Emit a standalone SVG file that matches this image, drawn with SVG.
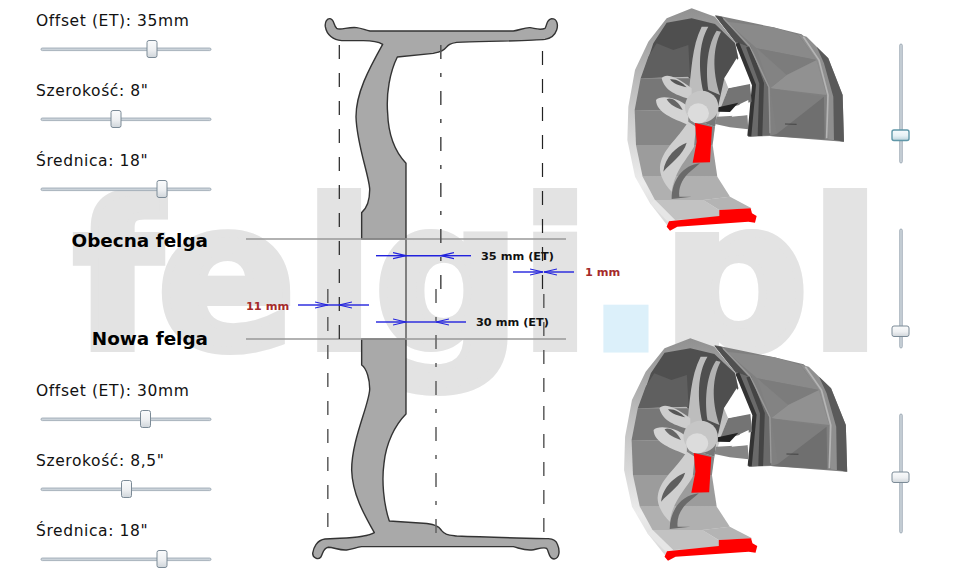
<svg xmlns="http://www.w3.org/2000/svg" xmlns:xlink="http://www.w3.org/1999/xlink" width="965" height="581" viewBox="0 0 965 581">
<style>
.wm{font:bold 205px "DejaVu Sans",sans-serif;fill:#e3e3e3;stroke:#e3e3e3;stroke-width:8}
.lab{font:15.5px "DejaVu Sans",sans-serif;fill:#111;letter-spacing:.6px}
.big{font:bold 18.4px "DejaVu Sans",sans-serif;fill:#000;text-anchor:end}
.et{font:bold 11.3px "DejaVu Sans",sans-serif;fill:#111}
.mm{font:bold 11.3px "DejaVu Sans",sans-serif;fill:#a52a2a}
.trk{fill:#cbd3da;stroke:#98a5b0;stroke-width:.8}
.th{fill:url(#th);stroke:#7b8a96;stroke-width:1}
.tha{fill:url(#tha);stroke:#5f97a8;stroke-width:1.4}
.rim{fill:#a9a9a9;stroke:#333;stroke-width:4.2;stroke-linejoin:round}
.guide{stroke:#999;stroke-width:1.6}
.d1{stroke:#222;stroke-width:1.2;fill:none;stroke-dasharray:14 14}
.d2{stroke:#666;stroke-width:1.6;fill:none;stroke-dasharray:14 14}
.c1{stroke:#555;stroke-width:1.6;fill:none;stroke-dasharray:14 14 4 14}
.c2{stroke:#666;stroke-width:1.6;fill:none;stroke-dasharray:14 14 4 14}
.ar{stroke:#2222dd;stroke-width:1.4;fill:none}
.ah{stroke:#2222dd;stroke-width:1.2;fill:none}
</style>
<defs>
<linearGradient id="th" x1="0" y1="0" x2="0" y2="1"><stop offset="0" stop-color="#fafbfc"/><stop offset=".55" stop-color="#eef0f2"/><stop offset="1" stop-color="#cfd5da"/></linearGradient>
<linearGradient id="tha" x1="0" y1="0" x2="0" y2="1"><stop offset="0" stop-color="#f6fbfd"/><stop offset=".55" stop-color="#e6f1f5"/><stop offset="1" stop-color="#b9d3dc"/></linearGradient>
<linearGradient id="ringg" x1="0" y1="0" x2="0" y2="1"><stop offset="0" stop-color="#909090"/><stop offset=".35" stop-color="#bdbdbd"/><stop offset=".8" stop-color="#ececec"/><stop offset="1" stop-color="#d8d8d8"/></linearGradient>
<marker id="oa" markerUnits="userSpaceOnUse" markerWidth="16" markerHeight="10" refX="13" refY="4" orient="auto"><path class="ah" d="M0,1 L13,4 L0,7"/></marker>
<g id="wheel">
<polygon fill="#808080" points="285,45 460,82 545,103 612,172 665,285 670,425 450,408 385,410 400,255 350,130"/>
<polygon fill="#8a8a8a" points="320,65 460,82 535,105 590,180 410,145"/>
<polygon fill="#7c7c7c" points="410,145 590,180 500,225"/>
<polygon fill="#919191" points="590,180 620,285 450,265 500,225"/>
<polygon fill="#838383" points="410,145 500,225 450,265"/>
<polygon fill="#7e7e7e" points="450,265 612,290 470,402"/>
<polygon fill="#6f6f6f" points="470,402 612,290 614,418 450,408"/>
<path d="M495,372 L530,373" stroke="#444" stroke-width="3"/>
<polygon fill="#6a6a6a" points="345,125 385,140 445,262 450,405 385,410 400,255"/>
<polygon fill="#505050" points="285,47 305,50 385,140 345,125"/>
<path d="M352,130 L402,255 L388,408" stroke="#333" stroke-width="12" fill="none"/>
<path d="M385,140 L425,250 L420,408" stroke="#444" stroke-width="14" fill="none"/>
<path d="M310,55 L390,140 L447,262 L450,400" stroke="#999" stroke-width="4" fill="none"/>
<polygon fill="#8f8f8f" points="535,103 560,110 625,175 668,285 672,425 625,418 620,285 590,180"/>
<polygon fill="#5a5a5a" points="590,140 625,175 668,285 672,425 642,420 640,290 612,190"/>
<path d="M550,110 L597,180 L624,285 L620,415" stroke="#b5b5b5" stroke-width="5" fill="none"/>
<path fill="url(#ringg)" d="M215,25 L140,55 L85,125 L45,210 L25,320 L22,420 L45,530 L90,610 L145,680 L170,668 L300,650 L395,635 L330,590 L290,530 L275,440 L285,380 L355,175 L345,125 L285,50 Z"/>
<path fill="#4f4f4f" d="M140,68 L215,55 L285,72 L345,130 L355,175 L313,235 L290,340 L200,225 L65,235 L100,130 Z"/>
<path fill="#5f5f5f" d="M110,130 L160,150 L205,135 L210,230 L62,235 L85,170 Z"/>
<path fill="#777" d="M62,235 L210,235 L290,340 L285,380 L150,332 L44,330 Z"/>
<path fill="#868686" d="M44,330 L150,332 L285,380 L278,435 L48,435 Z"/>
<path fill="#9c9c9c" d="M48,435 L278,435 L292,530 L68,530 Z"/>
<path fill="#b0b0b0" d="M68,530 L292,530 L330,590 L250,600 L105,600 Z"/>
<path fill="#c2c2c2" d="M105,600 L250,600 L300,632 L395,625 L300,650 L165,660 Z"/>
<path fill="#b4b4b4" d="M250,600 L330,590 L395,625 L298,630 Z"/>
<path fill="#e6e6e6" d="M105,600 L165,660 L150,672 L90,610 Z"/>
<polygon fill="#747474" points="325,265 390,252 395,305 300,330"/>
<polygon fill="#858585" points="290,350 382,345 385,388 330,382 285,372"/>
<polygon fill="#fff" points="350,175 388,250 325,264 313,235"/>
<polygon fill="#fff" points="385,300 385,345 335,350 360,312"/>
<polygon fill="#222" points="295,322 355,308 330,336 295,335"/>
<path fill="#bdbdbd" d="M205,290 C215,210 215,140 245,80 L265,80 C235,130 235,210 250,275 Z"/>
<path fill="#b2b2b2" d="M265,270 C255,200 265,130 290,92 L303,95 C280,140 275,210 300,285 Z"/>
<path fill="#cdcdcd" d="M125,235 C135,220 165,225 215,265 L215,300 C170,285 135,275 125,235 Z"/>
<path fill="#555" d="M150,238 C165,235 185,245 200,262 C180,258 160,252 150,238 Z"/>
<path fill="#d4d4d4" d="M108,300 C120,285 170,290 205,320 L205,375 C160,355 110,340 108,300 Z"/>
<path fill="#666" d="M140,298 C155,290 175,305 188,330 C170,325 150,315 140,298 Z"/>
<ellipse cx="245" cy="320" rx="50" ry="48" fill="#c6c6c6"/>
<ellipse cx="235" cy="340" rx="32" ry="30" fill="#dcdcdc"/>
<path fill="#cfcfcf" d="M120,500 C125,450 170,420 205,365 L228,380 L222,440 C200,480 165,510 155,575 C130,550 118,520 120,500 Z"/>
<path fill="#5f5f5f" d="M130,515 C135,470 170,440 200,428 C190,465 150,490 130,515 Z"/>
<path fill="#6a6a6a" d="M155,597 C155,540 190,495 240,490 L205,520 C185,540 175,565 178,590 L215,590 Z"/>
<polygon fill="#f00" points="225,369 276,381 270,487 218,488 230,425"/>
<path fill="#f00" d="M147,664 L298,648 L298,630 L392,625 L396,640 L410,648 L405,668 L385,665 L172,680 L150,692 L140,680 Z"/>
</g>
</defs>
<rect width="965" height="581" fill="#fff"/>
<g id="watermark">
<text class="wm" x="73" y="348">f</text><text class="wm" x="157" y="348">e</text><text class="wm" x="304" y="348">l</text><text class="wm" x="374" y="348">g</text><text class="wm" x="520" y="348">i</text><text class="wm" x="587" y="348" style="fill:#dcf0fa;stroke:#dcf0fa;stroke-width:9">.</text><text class="wm" x="662" y="348">p</text><text class="wm" x="810" y="348">l</text>
</g>
<g id="wheel-top"><use xlink:href="#wheel" href="#wheel" transform="translate(620,0) scale(.3333)"/></g>
<g id="wheel-bottom"><use xlink:href="#wheel" href="#wheel" transform="translate(616.5,330) scale(.3433,.3333)"/></g>
<g id="rim-section">
<path class="rim" transform="translate(300,0) scale(.3333)" d="M210,93 L640,93 C660,90 675,82 690,83 C705,85 720,92 735,85 C742,75 738,60 755,56 C772,56 775,75 770,90 C765,105 755,115 735,118 C700,122 560,124 470,127 C450,130 445,135 438,143 C430,155 410,158 400,160 L292,171 C270,215 258,280 263,340 C265,400 280,450 318,490 L318,717 L185,717 L185,638 C200,625 210,600 209,565 C205,520 170,430 168,350 C168,280 205,210 248,133 C235,125 215,122 190,122 L125,122 C100,120 80,105 76,80 C74,65 82,55 90,56 C103,58 100,75 110,85 C120,92 145,80 170,83 C185,85 195,90 210,93 Z"/>
<path class="rim" transform="translate(300,340) scale(.3333)" d="M185,620 L640,620 C660,625 675,632 695,630 C710,628 730,620 740,625 C748,635 745,655 762,657 C780,655 780,630 772,612 C768,600 760,597 745,596 C700,595 560,592 470,588 C445,585 435,585 425,572 C415,555 395,552 370,550 L268,543 C250,490 245,420 252,370 C258,310 285,255 318,222 L318,-3 L185,-3 L185,75 C200,85 210,120 209,150 C205,200 155,300 155,390 C157,460 190,520 223,578 C205,590 170,593 120,595 L75,597 C50,600 40,625 38,640 C38,655 55,660 62,652 C70,640 68,625 85,622 C100,622 120,632 140,630 C155,628 170,622 185,620 Z"/>
<path d="M406,239 V339" stroke="#555" stroke-width="1.4"/>
</g>
<g id="connectors">
<path class="guide" d="M246,239 H566 M246,339 H566"/>
<path class="d1" d="M339.3,45 V339"/>
<path class="d1" d="M542.5,51 V289"/>
<path class="c1" d="M440.8,45 V289"/>
<path class="d2" d="M327.8,289 V527"/>
<path class="d2" d="M543.8,294 V532"/>
<path class="c2" d="M436,289 V533"/>
<path class="ar" marker-end="url(#oa)" d="M376,255.7 H406"/><path class="ar" d="M406,255.7 H441"/><path class="ar" marker-end="url(#oa)" d="M471,255.7 H441"/>
<path class="ar" marker-end="url(#oa)" d="M376,322 H406"/><path class="ar" d="M406,322 H436"/><path class="ar" marker-end="url(#oa)" d="M466,322 H436"/>
<path class="ar" marker-end="url(#oa)" d="M513,272 H543"/><path class="ar" marker-end="url(#oa)" d="M574,272 H544"/>
<path class="ar" marker-end="url(#oa)" d="M298,305 H328"/><path class="ar" d="M328,305 H339"/><path class="ar" marker-end="url(#oa)" d="M369,305 H339"/>
</g>
<g id="labels">
<text class="big" x="208" y="246.5">Obecna felga</text>
<text class="big" x="208" y="345">Nowa felga</text>
<text class="et" x="481" y="260">35 mm (ET)</text>
<text class="et" x="476" y="326">30 mm (ET)</text>
<text class="mm" x="585" y="276">1 mm</text>
<text class="mm" x="246" y="310">11 mm</text>
</g>
<g id="slider-offset-now"><text class="lab" x="36" y="26">Offset (ET): 35mm</text><rect class="trk" x="41" y="48" width="170" height="2.6" rx="1.3"/><rect class="th" x="147" y="40.5" width="10" height="17" rx="2"/></g>
<g id="slider-width-now"><text class="lab" x="36" y="96">Szerokość: 8"</text><rect class="trk" x="41" y="118" width="170" height="2.6" rx="1.3"/><rect class="th" x="111" y="110.5" width="10" height="17" rx="2"/></g>
<g id="slider-diam-now"><text class="lab" x="36" y="166">Średnica: 18"</text><rect class="trk" x="41" y="188" width="170" height="2.6" rx="1.3"/><rect class="th" x="157" y="180.5" width="10" height="17" rx="2"/></g>
<g id="slider-offset-new"><text class="lab" x="36" y="396">Offset (ET): 30mm</text><rect class="trk" x="41" y="418" width="170" height="2.6" rx="1.3"/><rect class="th" x="140.5" y="410.5" width="10" height="17" rx="2"/></g>
<g id="slider-width-new"><text class="lab" x="36" y="466">Szerokość: 8,5"</text><rect class="trk" x="41" y="488" width="170" height="2.6" rx="1.3"/><rect class="th" x="121.5" y="480.5" width="10" height="17" rx="2"/></g>
<g id="slider-diam-new"><text class="lab" x="36" y="536">Średnica: 18"</text><rect class="trk" x="41" y="558" width="170" height="2.6" rx="1.3"/><rect class="th" x="157" y="550.5" width="10" height="17" rx="2"/></g>
<g id="slider-v1"><rect class="trk" x="899.7" y="44" width="2.6" height="119" rx="1.3"/><rect class="tha" x="892" y="130" width="17" height="10.5" rx="2"/></g>
<g id="slider-v2"><rect class="trk" x="899.7" y="229" width="2.6" height="119" rx="1.3"/><rect class="th" x="892" y="326" width="17" height="10.5" rx="2"/></g>
<g id="slider-v3"><rect class="trk" x="899.7" y="414" width="2.6" height="119" rx="1.3"/><rect class="th" x="892" y="472" width="17" height="10.5" rx="2"/></g>
</svg>
